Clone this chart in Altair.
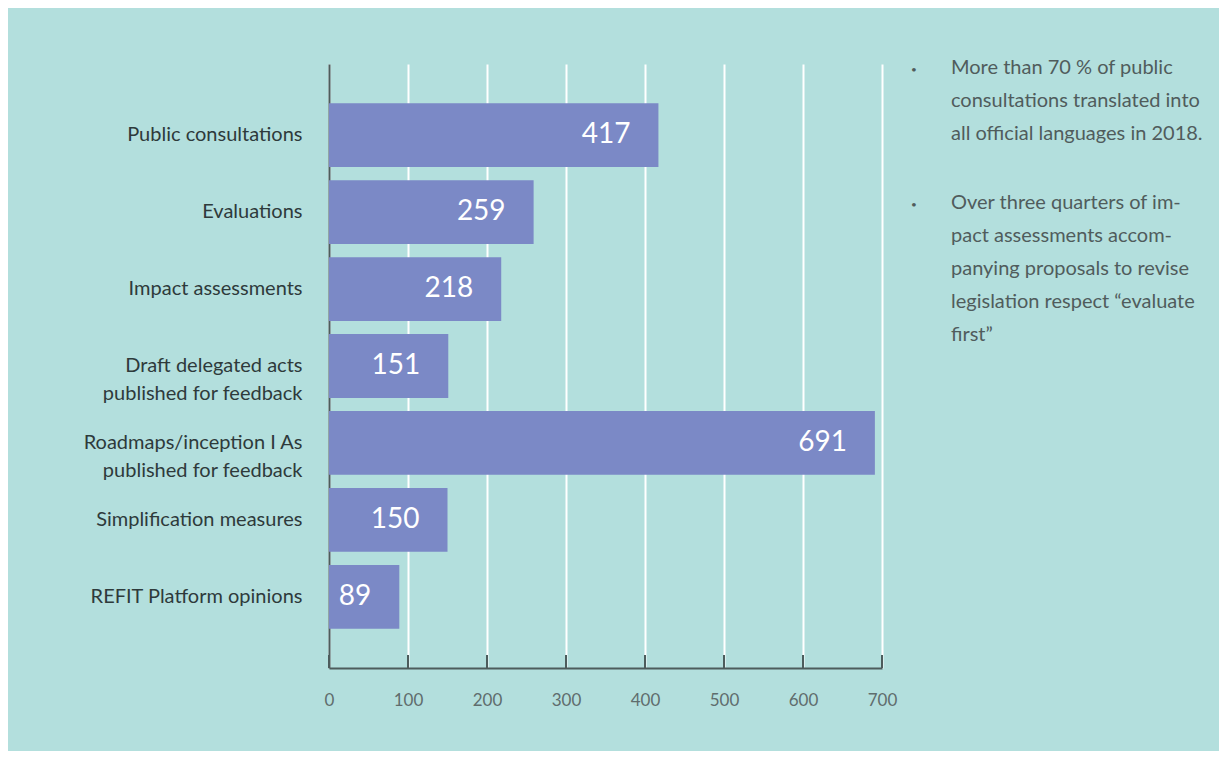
import altair as alt
import pandas as pd

categories = [
    "Public consultations",
    "Evaluations",
    "Impact assessments",
    "Draft delegated acts|published for feedback",
    "Roadmaps/inception I As|published for feedback",
    "Simplification measures",
    "REFIT Platform opinions",
]
values = [417, 259, 218, 151, 691, 150, 89]
x_ticks = [0, 100, 200, 300, 400, 500, 600, 700]
note_1 = ["More than 70 % of public", "consultations translated into", "all official languages in 2018."]
note_2 = ["Over three quarters of im-", "pact assessments accom-", "panying proposals to revise",
          "legislation respect “evaluate", "first”"]

FONT = "Lato, sans-serif"
TEAL = "#b3dfdd"
BAR = "#7b89c6"
DARK = "#2e3a3b"
AXIS = "#4d5c5c"

df = pd.DataFrame({"cat": categories, "val": values})
ticks_df = pd.DataFrame({"t": x_ticks})

W, H = 553, 604

xscale = alt.Scale(domain=[0, 700], nice=False)
yscale = alt.Scale(domain=categories, paddingInner=0.17, paddingOuter=0.51)

bars = alt.Chart(df).mark_bar(color=BAR).encode(
    x=alt.X("val:Q", scale=xscale,
            axis=alt.Axis(values=x_ticks, title=None, grid=True, gridColor="white", gridWidth=2,
                          domainColor=AXIS, domainWidth=2, ticks=False, labelPadding=24,
                          labelFlush=False,
                          labelFont=FONT, labelFontSize=17, labelColor="#5f6d6d")),
    y=alt.Y("cat:N", scale=yscale, sort=categories,
            axis=alt.Axis(title=None, ticks=False, domainColor=AXIS, domainWidth=2,
                          labelPadding=27, labelFont=FONT, labelFontSize=20, labelColor=DARK,
                          labelExpr="split(datum.label, '|')", labelLineHeight=28,
                          labelLimit=400)),
)

labels = alt.Chart(df).mark_text(align="right", baseline="middle", dx=-28, color="white",
                                 font=FONT, fontSize=28).encode(
    x=alt.X("val:Q", scale=xscale),
    y=alt.Y("cat:N", scale=yscale, sort=categories),
    text=alt.Text("val:Q"),
)

tick_rules = alt.Chart(ticks_df).mark_rule(color=AXIS, strokeWidth=2).encode(
    x=alt.X("t:Q", scale=xscale),
    y=alt.value(H - 13),
    y2=alt.value(H),
)

notes_df = pd.DataFrame({"n": ["|".join(note_1), "|".join(note_2)],
                         "y": [-6, 129]})

notes = alt.Chart(notes_df).mark_text(align="left", baseline="top", lineBreak="|", lineHeight=33,
                                      font=FONT, fontSize=20, color="#505c5c").encode(
    x=alt.value(622),
    y=alt.Y("y:Q", scale=None),
    text="n:N",
)
bullets = alt.Chart(notes_df).mark_text(align="center", baseline="middle", text="•",
                                        font=FONT, fontSize=10, color="#505c5c").encode(
    x=alt.value(585),
    y=alt.Y("y:Q", scale=None),
    yOffset=alt.value(12),
)

chart = alt.layer(bars, tick_rules, labels, notes, bullets).properties(
    width=W, height=H,
    background=TEAL,
    padding={"left": 321, "top": 56, "right": 337, "bottom": 83},
    autosize=alt.AutoSizeParams(type="none"),
).configure_view(stroke=None, fill=TEAL)

chart.save("out.html", embed_options={"renderer": "svg", "actions": False})
